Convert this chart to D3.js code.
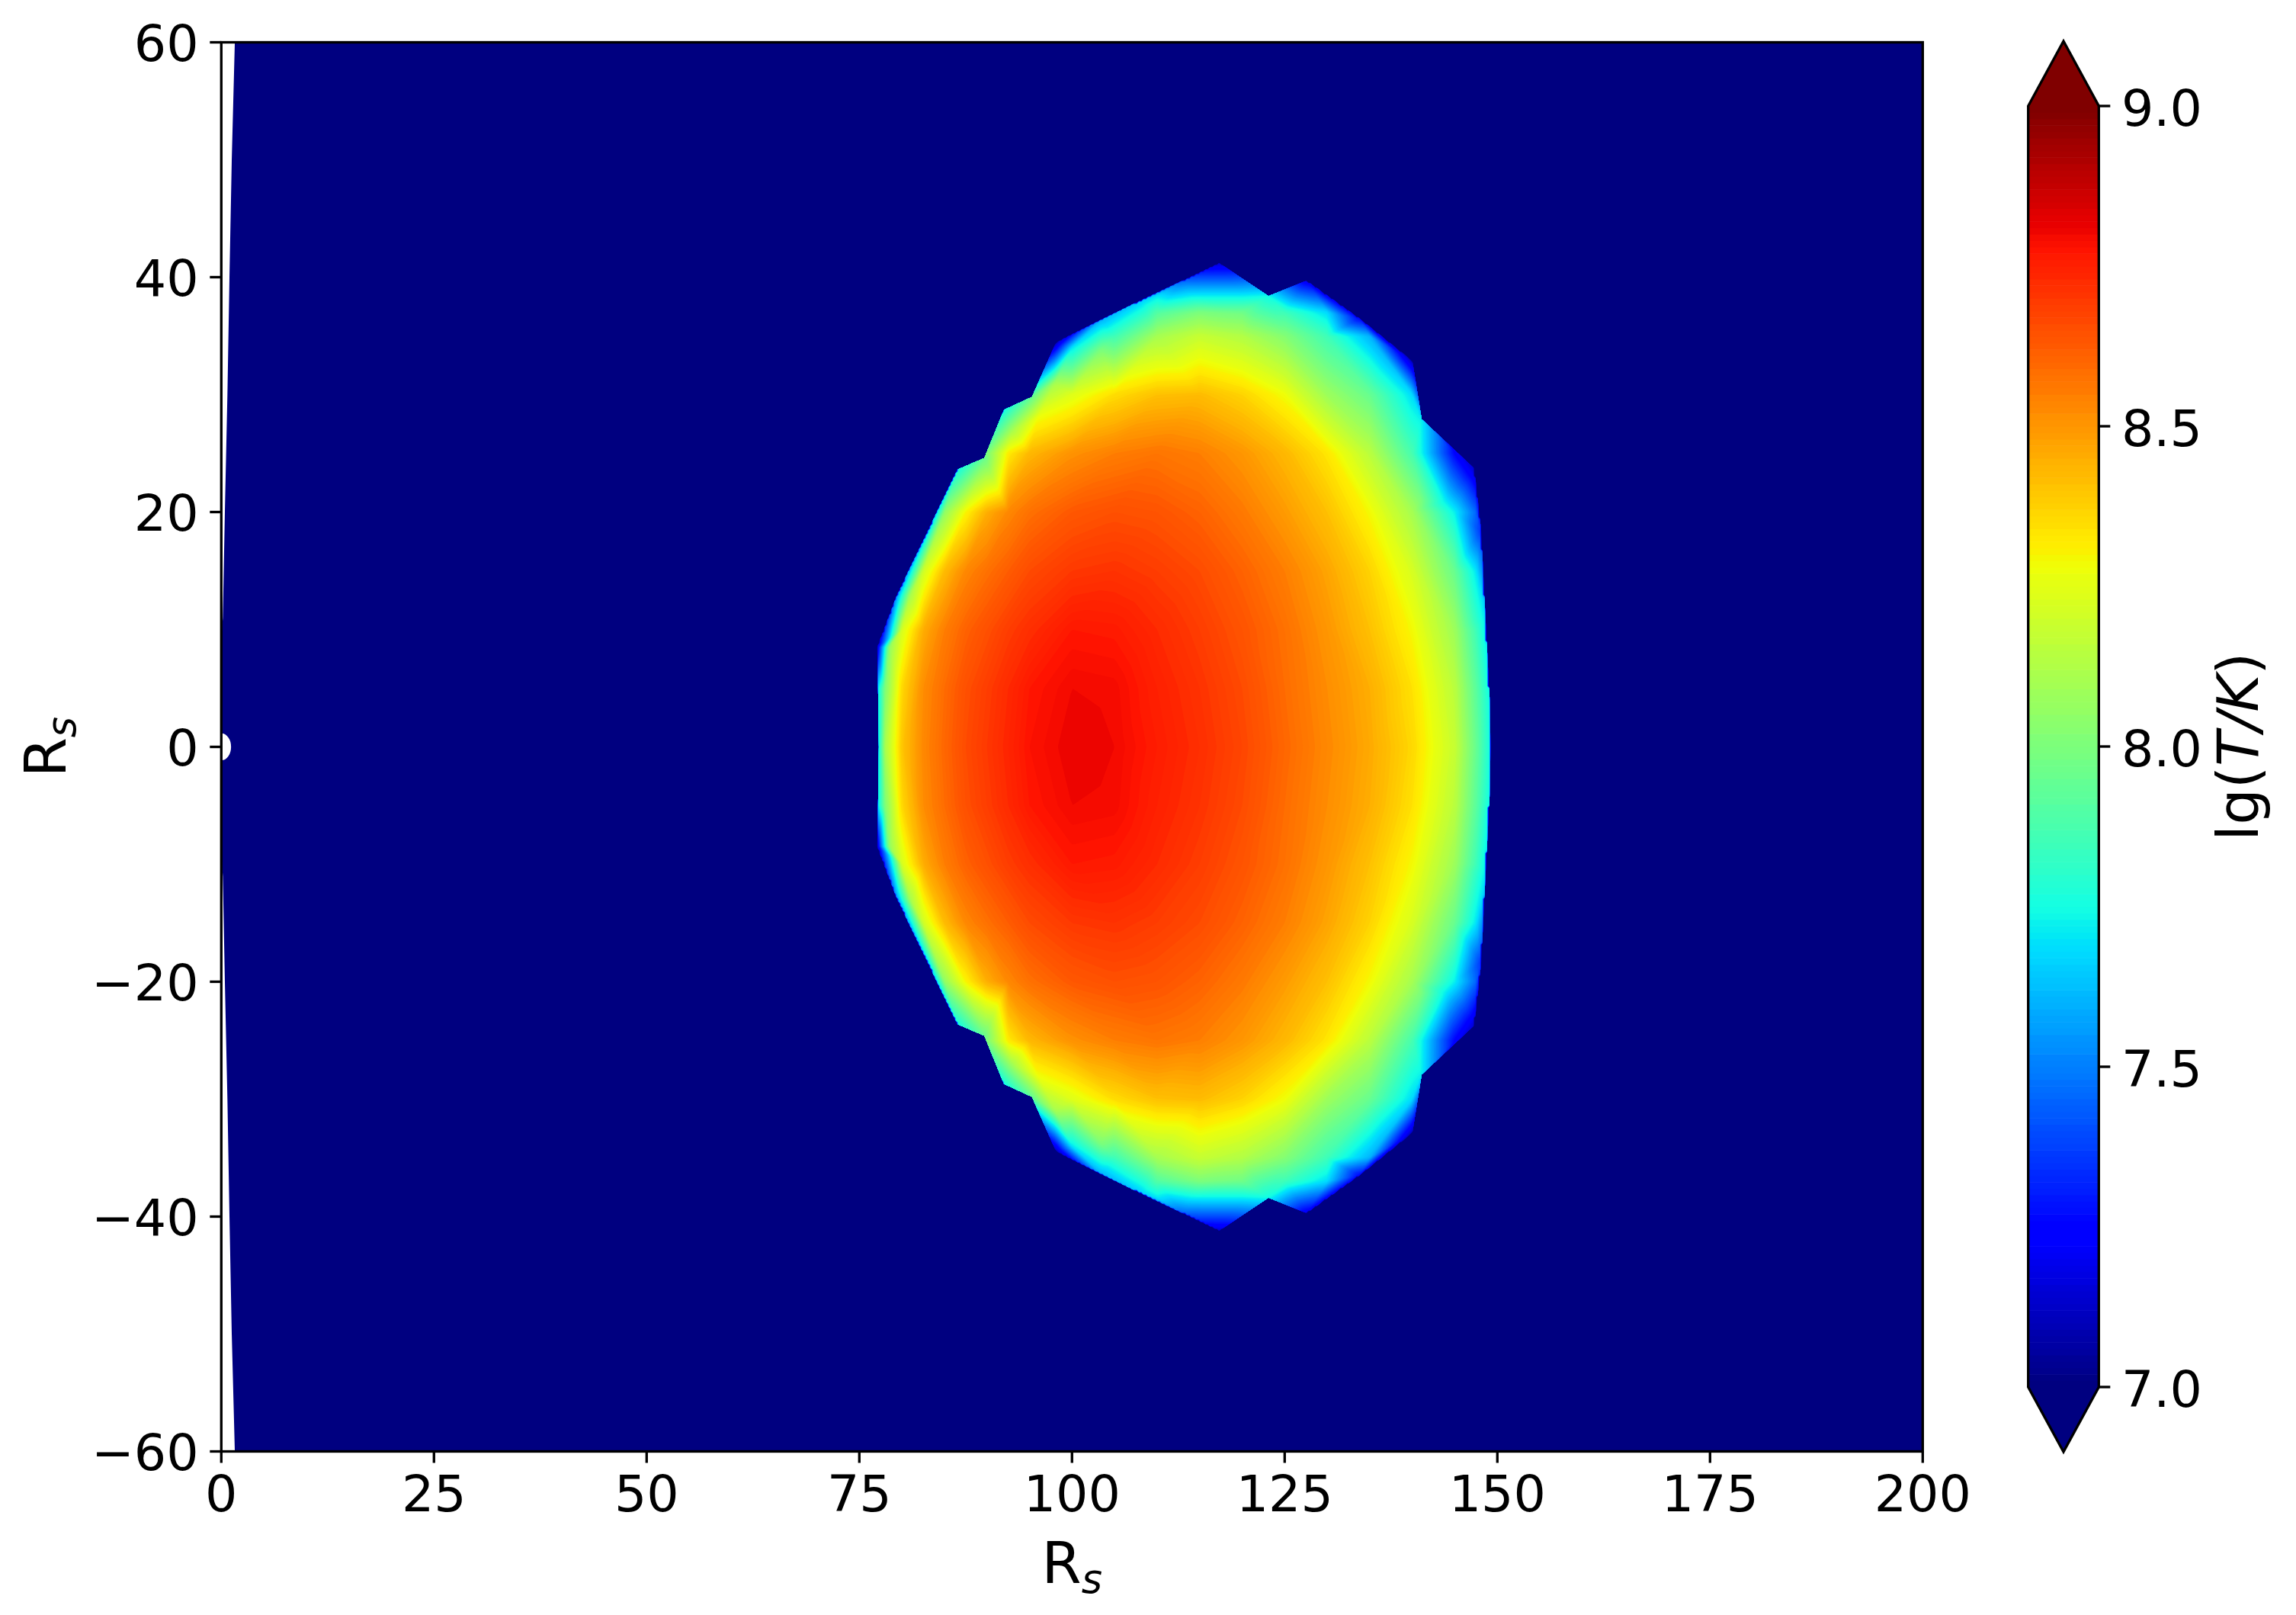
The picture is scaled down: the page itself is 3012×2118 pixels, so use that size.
<!DOCTYPE html>
<html>
<head>
<meta charset="utf-8">
<script src="https://d3js.org/d3.v7.min.js"></script>
<style>
  body { margin: 0; background: #fff; }
  text { font-family: "DejaVu Sans", sans-serif; fill: #000; }
</style>
</head>
<body>
<div id="chart-area"></div>
<script>
// Valores (mitad superior, Z >= 0; la inferior es su espejo)
const xTicks = [0, 25, 50, 75, 100, 125, 150, 175, 200];
const yTicks = [-60, -40, -20, 0, 20, 40, 60];
const colorTicks = [7, 7.5, 8, 8.5, 9];

// Borde izquierdo de la malla
const leftEdgeZ = [60, 50, 40, 30, 20, 11, 9, 0];
const leftEdgeR = [1.59, 1.23, 0.96, 0.72, 0.42, 0.18, 0, 0];
const holeRadius = 1.15;

// Contorno de la zona caliente: R, Z y lg T en cada vertice
const edgeR = [77.3, 77.2, 77.1, 79.4, 86.5, 89.7, 92.0, 95.3, 98.1, 98.8, 103.5, 108, 113, 117.3, 123.1, 127.6, 133.8, 140.0, 141.1, 147.3, 148.1, 148.6, 149.1, 149.2];
const edgeZ = [0, 5, 8.5, 12.9, 23.6, 24.6, 28.7, 29.8, 34.4, 34.7, 36.4, 38.0, 39.7, 41.2, 38.4, 39.7, 36.5, 32.9, 27.9, 23.7, 18.4, 11, 4, 0];
const edgeT = [7.75, 7.7, 7.15, 7.55, 7.75, 7.95, 7.75, 7.95, 7.1, 7.15, 7.6, 7.65, 7.45, 7.15, 7.74, 7.2, 7.25, 7.1, 7.72, 7.15, 7.35, 7.7, 7.75, 7.75];

// Puntos sueltos pegados al borde
const extraR = [78.5, 81, 100, 96, 93, 98, 103.4, 137, 144, 141];
const extraZ = [8.5, 13, 34, 28, 27, 31, 33.8, 33, 21, 21];
const extraT = [8.05, 8.1, 7.7, 8.28, 8.1, 8.1, 8.0, 7.62, 7.7, 8.0];

// lg T por filas de Z, columnas en gridR
const gridR = [78, 80, 82.5, 85, 87.5, 90, 92.5, 95, 100, 105, 110, 115, 120, 125, 130, 135, 140, 145, 147.5];
const tempZ0 = [8.10, 8.40, 8.53, 8.60, 8.66, 8.70, 8.74, 8.78, 8.81, 8.80, 8.76, 8.72, 8.67, 8.60, 8.53, 8.46, 8.36, 8.18, 7.95];
const tempZ5 = [8.00, 8.36, 8.52, 8.59, 8.65, 8.69, 8.73, 8.77, 8.80, 8.795, 8.75, 8.71, 8.66, 8.59, 8.52, 8.45, 8.34, 8.15, 7.92];
const tempZ10 = [null, 8.22, 8.45, 8.55, 8.61, 8.65, 8.69, 8.72, 8.77, 8.765, 8.73, 8.69, 8.64, 8.58, 8.50, 8.41, 8.29, 8.08, 7.85];
const tempZ15 = [null, null, 8.20, 8.42, 8.53, 8.58, 8.62, 8.66, 8.70, 8.71, 8.69, 8.66, 8.61, 8.55, 8.47, 8.37, 8.22, 7.95, 7.70];
const tempZ20 = [null, null, null, 8.05, 8.30, 8.45, 8.53, 8.58, 8.63, 8.65, 8.64, 8.61, 8.56, 8.49, 8.41, 8.29, 8.10, 7.72, 7.45];
const tempZ25 = [null, null, null, null, null, 8.00, 8.32, 8.43, 8.51, 8.55, 8.57, 8.55, 8.50, 8.43, 8.33, 8.15, 7.87, 7.25, null];
const tempZ30 = [null, null, null, null, null, null, null, null, 8.24, 8.35, 8.41, 8.42, 8.37, 8.28, 8.08, 7.95, 7.68, null, null];
const tempZ35 = [null, null, null, null, null, null, null, null, null, 7.85, 8.10, 8.18, 8.13, 8.02, 7.85, 7.60, null, null, null];
const tempZ37 = [null, null, null, null, null, null, null, null, null, null, 7.90, 8.00, 7.97, 7.85, 7.68, null, null, null, null];
const tempZ38 = [null, null, null, null, null, null, null, null, null, null, 7.70, 7.72, 7.72, 7.60, null, null, null, null, null];
const gridZ = [0, 5, 10, 15, 20, 25, 30, 35, 37, 38.4];
const gridT = [tempZ0, tempZ5, tempZ10, tempZ15, tempZ20, tempZ25, tempZ30, tempZ35, tempZ37, tempZ38];

const width = 3012;
const height = 2118;
const plot = { left: 290.3, right: 2522.3, top: 55.5, bottom: 1903.5 };
const bar = { left: 2660.7, right: 2753.3, top: 139, bottom: 1819, tip: 85 };
const tickFont = 66.7;
const labelFont = 75;
const lineW = 3.33;

const x = d3.scaleLinear().domain([0, 200]).range([plot.left, plot.right]);
const y = d3.scaleLinear().domain([-60, 60]).range([plot.bottom, plot.top]);
const c = d3.scaleLinear().domain([7, 9]).range([bar.bottom, bar.top]);

// Mapa jet de matplotlib, 256 colores
const jetR = d3.scaleLinear().domain([0, 0.35, 0.66, 0.89, 1]).range([0, 0, 1, 1, 0.5]).clamp(true);
const jetG = d3.scaleLinear().domain([0, 0.125, 0.375, 0.64, 0.91, 1]).range([0, 0, 1, 1, 0, 0]).clamp(true);
const jetB = d3.scaleLinear().domain([0, 0.11, 0.34, 0.65, 1]).range([0.5, 1, 1, 0, 0]).clamp(true);
function jet(v) {
    const t = Math.min(Math.floor(((v - 7) / 2) * 256), 255) / 255;
    return d3.rgb(jetR(t) * 255, jetG(t) * 255, jetB(t) * 255).formatHex();
}

const levelStep = 0.01;
const levels = d3.range(0, 200).map(i => 7 + i * levelStep);

// Juntar los puntos leidos y su espejo
const pts = [];
function addPoint(r, z, t) {
    pts.push([r, z, t]);
    if (z > 0) pts.push([r, -z, t]);
}
edgeR.forEach((r, i) => addPoint(r, edgeZ[i], edgeT[i]));
extraR.forEach((r, i) => addPoint(r, extraZ[i], extraT[i]));
gridZ.forEach((z, j) => {
    gridR.forEach((r, i) => {
        if (gridT[j][i] !== null) addPoint(r, z, gridT[j][i]);
    });
});

// Triangular y pasar a una rejilla para d3.contours, como hace tricontourf
const R0 = 72, R1 = 154, Z0 = 44;
const nx = 305, ny = 452;
const gx = d3.scaleLinear().domain([0, nx]).range([R0, R1]);
const gy = d3.scaleLinear().domain([0, ny]).range([Z0, -Z0]);
const field = new Float64Array(nx * ny).fill(6.9);
const delaunay = d3.Delaunay.from(pts, d => d[0], d => d[1]);
const tri = delaunay.triangles;
for (let k = 0; k < tri.length; k += 3) {
    const a = pts[tri[k]], b = pts[tri[k + 1]], d = pts[tri[k + 2]];
    const det = (b[1] - d[1]) * (a[0] - d[0]) + (d[0] - b[0]) * (a[1] - d[1]);
    if (Math.abs(det) < 1e-9) continue;
    const i0 = Math.max(0, Math.floor(gx.invert(Math.min(a[0], b[0], d[0]))) - 1);
    const i1 = Math.min(nx - 1, Math.ceil(gx.invert(Math.max(a[0], b[0], d[0]))) + 1);
    const j0 = Math.max(0, Math.floor(gy.invert(Math.max(a[1], b[1], d[1]))) - 1);
    const j1 = Math.min(ny - 1, Math.ceil(gy.invert(Math.min(a[1], b[1], d[1]))) + 1);
    for (let j = j0; j <= j1; j++) {
        for (let i = i0; i <= i1; i++) {
            const pr = gx(i + 0.5), pz = gy(j + 0.5);
            const w1 = ((b[1] - d[1]) * (pr - d[0]) + (d[0] - b[0]) * (pz - d[1])) / det;
            const w2 = ((d[1] - a[1]) * (pr - d[0]) + (a[0] - d[0]) * (pz - d[1])) / det;
            const w3 = 1 - w1 - w2;
            if (w1 >= -1e-6 && w2 >= -1e-6 && w3 >= -1e-6) {
                field[j * nx + i] = w1 * a[2] + w2 * b[2] + w3 * d[2];
            }
        }
    }
}

const svg = d3.select("#chart-area").append("svg")
    .attr("width", width)
    .attr("height", height)
    .style("display", "block")
    .style("background", "#fff");

// Contorno completo para recortar las bandas
const ring = edgeR.map((r, i) => [x(r), y(edgeZ[i])]);
for (let i = edgeR.length - 2; i > 0; i--) ring.push([x(edgeR[i]), y(-edgeZ[i])]);
svg.append("clipPath").attr("id", "hot-clip")
    .append("polygon")
    .attr("points", ring.map(p => p.join(",")).join(" "));

// Fondo azul con su borde izquierdo curvo
const leftZ = leftEdgeZ.concat(leftEdgeZ.slice().reverse().map(z => -z));
const leftR = leftEdgeR.concat(leftEdgeR.slice().reverse());
const baseArea = d3.area()
    .x0((d, i) => x(leftR[i]))
    .x1(x(200))
    .y(d => y(d));
svg.append("path")
    .datum(leftZ)
    .attr("d", baseArea)
    .attr("fill", jet(7));

// Hueco central
svg.append("ellipse")
    .attr("cx", x(0))
    .attr("cy", y(0))
    .attr("rx", x(holeRadius) - x(0))
    .attr("ry", y(0) - y(holeRadius))
    .attr("fill", "#fff");

// Bandas de temperatura
const contours = d3.contours().size([nx, ny]).thresholds(levels)(field);
const toPlot = d3.geoTransform({
    point(px, py) {
        this.stream.point(x(gx(px)), y(gy(py)));
    }
});
const geoPath = d3.geoPath(toPlot);
svg.append("g")
    .attr("clip-path", "url(#hot-clip)")
    .selectAll("path")
    .data(contours.filter(d => d.coordinates.length > 0))
    .enter()
    .append("path")
    .attr("d", geoPath)
    .attr("fill", d => jet(d.value + levelStep / 2));

// Marco y ejes
svg.append("rect")
    .attr("x", plot.left).attr("y", plot.top)
    .attr("width", plot.right - plot.left).attr("height", plot.bottom - plot.top)
    .attr("fill", "none").attr("stroke", "#000").attr("stroke-width", lineW);

function styleAxis(g) {
    g.select(".domain").remove();
    g.selectAll(".tick line").attr("stroke", "#000").attr("stroke-width", lineW);
    g.selectAll(".tick text").attr("font-size", tickFont).attr("font-family", "DejaVu Sans").attr("fill", "#000");
}

const fmtMinus = d => String(d).replace("-", "\u2212");

svg.append("g")
    .attr("transform", `translate(0,${plot.bottom})`)
    .call(d3.axisBottom(x).tickValues(xTicks).tickFormat(fmtMinus).tickSize(15).tickPadding(14.6).offset(0))
    .call(styleAxis)
    .call(g => g.selectAll(".tick text").attr("dy", "0.74em"));

svg.append("g")
    .attr("transform", `translate(${plot.left},0)`)
    .call(d3.axisLeft(y).tickValues(yTicks).tickFormat(fmtMinus).tickSize(15).tickPadding(14.6).offset(0))
    .call(styleAxis)
    .call(g => g.selectAll(".tick text").attr("dy", "0.365em"));

// Barra de color
const bandH = c(7) - c(7 + levelStep);
svg.append("g").selectAll("rect")
    .data(levels)
    .enter()
    .append("rect")
    .attr("x", bar.left)
    .attr("width", bar.right - bar.left)
    .attr("y", d => c(d + levelStep))
    .attr("height", bandH + 0.6)
    .attr("fill", d => jet(d + levelStep / 2));

const barMid = (bar.left + bar.right) / 2;
svg.append("polygon")
    .attr("points", `${bar.left},${c(9)} ${barMid},${c(9) - bar.tip} ${bar.right},${c(9)}`)
    .attr("fill", jet(9));
svg.append("polygon")
    .attr("points", `${bar.left},${c(7)} ${barMid},${c(7) + bar.tip} ${bar.right},${c(7)}`)
    .attr("fill", jet(7));
svg.append("polygon")
    .attr("points", [
        [bar.left, c(9)], [barMid, c(9) - bar.tip], [bar.right, c(9)],
        [bar.right, c(7)], [barMid, c(7) + bar.tip], [bar.left, c(7)]
    ].map(p => p.join(",")).join(" "))
    .attr("fill", "none").attr("stroke", "#000").attr("stroke-width", lineW);

svg.append("g")
    .attr("transform", `translate(${bar.right},0)`)
    .call(d3.axisRight(c).tickValues(colorTicks).tickFormat(d3.format(".1f")).tickSize(15).tickPadding(14.6).offset(0))
    .call(styleAxis)
    .call(g => g.selectAll(".tick text").attr("dy", "0.395em"));

// Etiquetas
function rsLabel(t) {
    t.attr("font-size", labelFont).attr("text-anchor", "middle");
    t.append("tspan").text("R");
    t.append("tspan").text("s")
        .attr("font-size", labelFont * 0.7)
        .attr("font-style", "italic")
        .attr("dy", 13);
}
svg.append("text")
    .attr("x", (plot.left + plot.right) / 2)
    .attr("y", 2076)
    .call(rsLabel);
svg.append("text")
    .attr("transform", `translate(86,${(plot.top + plot.bottom) / 2}) rotate(-90)`)
    .call(rsLabel);

const cLabel = svg.append("text")
    .attr("transform", `translate(2962,${(bar.top + bar.bottom) / 2}) rotate(-90)`)
    .attr("font-size", labelFont)
    .attr("text-anchor", "middle");
cLabel.append("tspan").text("lg(");
cLabel.append("tspan").text("T/K").attr("font-style", "italic");
cLabel.append("tspan").text(")");
</script>
</body>
</html>
